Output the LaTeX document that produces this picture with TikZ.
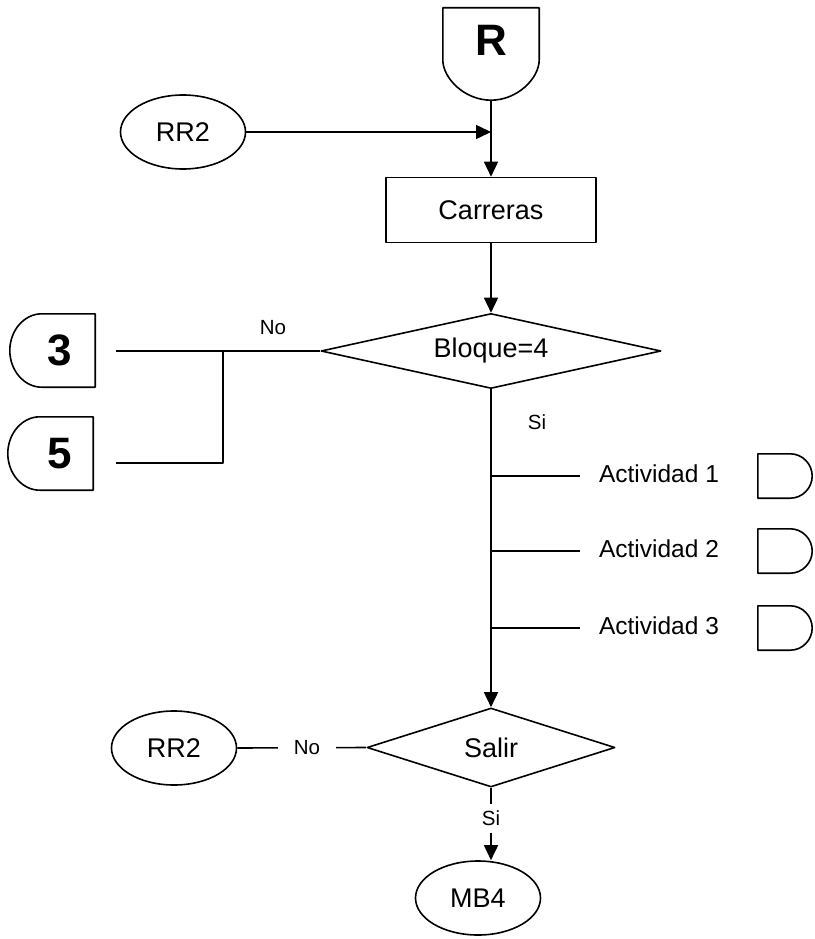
\documentclass[tikz,border=0pt]{standalone}
\usepackage{fontspec}
\setmainfont{Liberation Sans}
\usetikzlibrary{arrows.meta,shapes.geometric,calc}
\tikzset{
 ln/.style={line width=1.6pt, line join=round},
 arr/.style={ln, -{Triangle[length=15pt,width=14pt]}},
 big/.style={font=\fontsize{27}{32}\selectfont},
 act/.style={font=\fontsize{24.5}{29}\selectfont},
 small/.style={font=\fontsize{20.5}{24}\selectfont},
 huge/.style={font=\fontsize{44}{50}\selectfont\bfseries},
 oval/.style={ln, draw, ellipse, inner sep=0pt, minimum width=125pt, minimum height=74pt, big},
 box/.style={inner sep=0pt, draw=none},
 dmd/.style={ln, draw, diamond, inner sep=0pt, big},
}
% connector rounded on the left, flat on the right
\newcommand\lconn[1]{%
 \draw[ln] (#1.north east) -- ($(#1.north west)+(32,0)$)
  .. controls ($(#1.north west)+(14.3,0)$) and ($(#1.west)+(0,-20)$) .. (#1.west)
  .. controls ($(#1.west)+(0,20)$) and ($(#1.south west)+(14.3,0)$) .. ($(#1.south west)+(32,0)$)
  -- (#1.south east) -- cycle;}
% connector flat on the left, rounded on the right
\newcommand\rconn[1]{%
 \draw[ln] (#1.north west) -- ($(#1.north east)+(-22,0)$)
  .. controls ($(#1.north east)+(-9.9,0)$) and ($(#1.east)+(0,-12.1)$) .. (#1.east)
  .. controls ($(#1.east)+(0,12.1)$) and ($(#1.south east)+(-9.9,0)$) .. ($(#1.south east)+(-22,0)$)
  -- (#1.south west) -- cycle;}
\begin{document}
\begin{tikzpicture}[x=1pt,y=-1pt]
\useasboundingbox (0,0) rectangle (814,939);
% top connector R
\node[box, minimum width=96pt, minimum height=92pt] (Rb) at (491,54) {};
\node[huge] (Rt) at (491,40) {R};
\draw[ln] (Rb.north west) -- (Rb.north east) -- ($(Rb.north east)+(0,52)$)
  .. controls ($(Rb.south east)+(0,-22)$) and ($(Rb.south)+(26.5,0)$) .. (Rb.south)
  .. controls ($(Rb.south)+(-26.5,0)$) and ($(Rb.south west)+(0,-22)$) .. ($(Rb.north west)+(0,52)$) -- cycle;
\node[oval] (rr2a) at (183,132) {RR2};
\node[ln, draw, rectangle, minimum width=210pt, minimum height=65pt, big] (carr) at (491,210) {Carreras};
\coordinate (j1) at (491,132);
\draw[ln] (Rb.south) -- (j1);
\draw[arr] (j1) -- (carr.north);
\draw[arr] (rr2a.east) -- (j1);
% decision Bloque=4
\node[dmd, minimum width=340pt, minimum height=75pt, aspect=4.5] (bloq) at (491,351) {Bloque=4};
\draw[arr] (carr.south) -- (bloq.north);
% left connectors
\node[box, minimum width=85pt, minimum height=73pt, huge] (c3) at (52.5,350.5) {\hspace*{15pt}3};
\node[box, minimum width=85pt, minimum height=73pt, huge] (c5) at (50.5,453.5) {\hspace*{18pt}5};
\lconn{c3}
\lconn{c5}
\coordinate (e3) at (116,351);
\coordinate (b1) at (223,351);
\coordinate (e5) at (116,463);
\draw[ln] (bloq.west) -- (e3);
\draw[ln] (b1) |- (e5);
\node[small] (no1) at (273,328) {No};
\node[small] (si1) at (537,422) {Si};
% decision Salir
\node[dmd, minimum width=248pt, minimum height=79pt, aspect=3.1] (salir) at (491,747.5) {Salir};
\draw[arr] (bloq.south) -- (salir.north);
% activities
\foreach \i/\y in {1/476, 2/551, 3/628}{
  \coordinate (a\i) at (491,\y);
  \coordinate (b\i) at (580,\y);
  \draw[ln] (a\i) -- (b\i);
  \node[act] (t\i) at (659,\y-2) {Actividad \i};
  \node[box, minimum width=54pt, minimum height=44pt] (d\i) at (785,\y) {};
  \rconn{d\i}
}
% bottom
\node[oval] (rr2b) at (174,748) {RR2};
\draw[ln] (rr2b.east) -- (salir.west) node[pos=0.54, fill=white, small, inner xsep=16pt] (no2) {No};
\node[oval] (mb4) at (478,898) {MB4};
\draw[arr] (salir.south) -- (salir.south |- mb4.north) node[pos=0.42, fill=white, small, inner ysep=7pt] (si2) {Si};
\end{tikzpicture}
\end{document}
